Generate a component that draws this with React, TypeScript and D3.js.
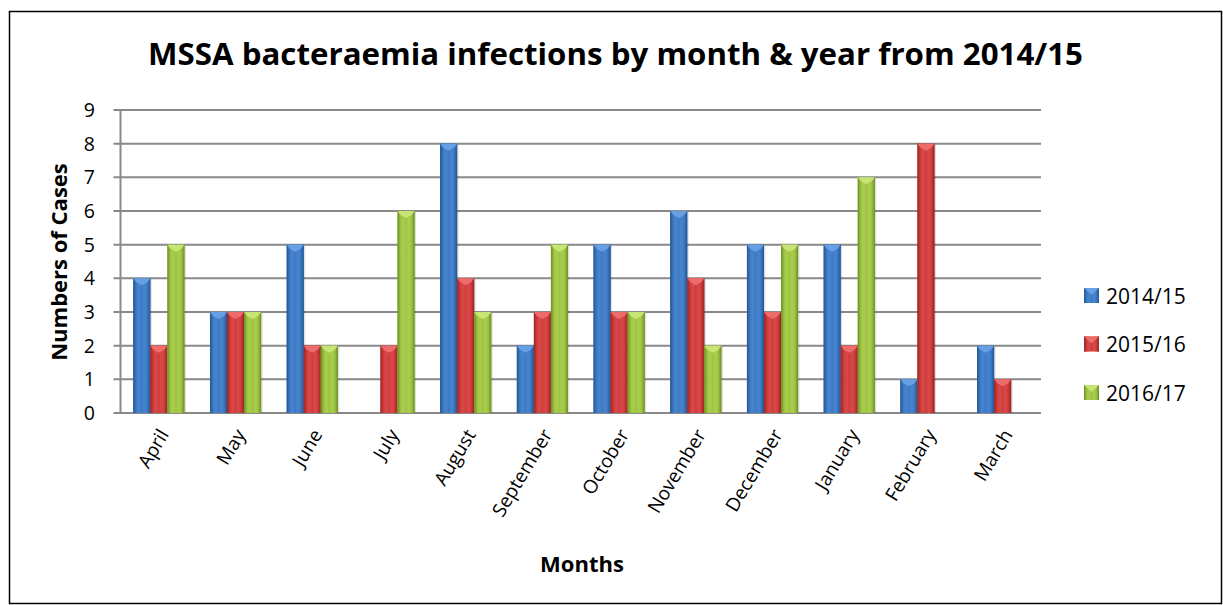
import React from "react";
import * as d3 from "d3";

const months = ["April","May","June","July","August","September","October","November","December","January","February","March"];
const seriesNames = ["2014/15","2015/16","2016/17"];
const values1415 = [4,3,5,0,8,2,5,6,5,5,1,2];
const values1516 = [2,3,2,2,4,3,3,4,3,2,8,1];
const values1617 = [5,3,2,6,3,5,3,2,5,7,0,0];
const yTicks = [0,1,2,3,4,5,6,7,8,9];
const colors = [
  { base: "#3b78c4", dark: "#24558f", light: "#6aa3e6" },
  { base: "#cf3a3a", dark: "#962626", light: "#f07070" },
  { base: "#9cc23e", dark: "#6d8d27", light: "#cbe87a" },
];

const W = 1223, H = 605;
const plot = { left: 120.5, right: 1041, top: 110, bottom: 413 };
const FONT = "'Open Sans', Lato, sans-serif";

export default function App() {
  const series = [values1415, values1516, values1617];
  const x0 = d3.scaleBand().domain(months).range([plot.left, plot.right]).paddingInner(0.333).paddingOuter(0.1665);
  const x1 = d3.scaleBand().domain(seriesNames).range([0, x0.bandwidth()]);
  const y = d3.scaleLinear().domain([0, 9]).range([plot.bottom, plot.top]);

  return (
    <svg width={W} height={H} style={{ position: "absolute", left: 0, top: 0, background: "#fff" }} fontFamily={FONT}>
      <defs>
        {colors.map((c, i) => (
          <linearGradient key={i} id={`g${i}`} x1="0" x2="1" y1="0" y2="0">
            <stop offset="0" stopColor={c.dark} />
            <stop offset="0.18" stopColor={c.base} />
            <stop offset="0.5" stopColor={c.light} stopOpacity="0.0" />
            <stop offset="0.82" stopColor={c.base} />
            <stop offset="1" stopColor={c.dark} />
          </linearGradient>
        ))}
      </defs>
      <rect x={9.5} y={11.5} width={1212} height={592} fill="#fff" stroke="#000" strokeWidth={1.5} />
      <text x={615.5} y={65} textAnchor="middle" fontSize={30} fontWeight="bold" fill="#000" textLength={935} lengthAdjust="spacingAndGlyphs">
        MSSA bacteraemia infections by month &amp; year from 2014/15
      </text>
      {yTicks.map((t) => (
        <g key={t}>
          <line x1={plot.left - 7} x2={plot.right} y1={y(t)} y2={y(t)} stroke="#898989" strokeWidth={2} />
          <text x={95} y={y(t)} dy="0.36em" textAnchor="end" fontSize={19.5} fill="#000">{t}</text>
        </g>
      ))}
      <line x1={plot.left} x2={plot.left} y1={plot.top} y2={plot.bottom} stroke="#898989" strokeWidth={2} />
      {months.map((m, mi) => (
        <g key={m}>
          {series.map((vals, si) => {
            const v = vals[mi];
            if (!v) return null;
            const bx = (x0(m) as number) + (x1(seriesNames[si]) as number);
            const bw = x1.bandwidth();
            const by = y(v);
            const bh = y(0) - by;
            const c = colors[si];
            return (
              <g key={si}>
                <rect x={bx + 1.5} y={by + 1} width={bw} height={bh - 1} fill="#000" opacity={0.12} />
                <rect x={bx} y={by} width={bw} height={bh} fill={c.base} />
                <rect x={bx} y={by} width={bw} height={bh} fill={`url(#g${si})`} />
                <polygon points={`${bx},${by} ${bx + bw},${by} ${bx + bw - 3},${by + 4} ${bx + bw / 2},${by + 7} ${bx + 3},${by + 4}`} fill={c.light} opacity={0.9} />
              </g>
            );
          })}
          <text
            transform={`translate(${(x0(m) as number) + x0.bandwidth() / 2 + 5},${431}) rotate(-59)`}
            textAnchor="end" dy="0.35em" fontSize={19} fill="#000"
          >{m}</text>
        </g>
      ))}
      <text transform={`translate(67,262) rotate(-90)`} textAnchor="middle" fontSize={22} fontWeight="bold" fill="#000">Numbers of Cases</text>
      <text x={582} y={572} textAnchor="middle" fontSize={22} fontWeight="bold" fill="#000">Months</text>
      {seriesNames.map((s, i) => {
        const ly = 296 + i * 48.5;
        const c = colors[i];
        return (
          <g key={s}>
            <rect x={1084} y={ly - 8} width={15} height={15} fill={c.base} />
            <rect x={1084} y={ly - 8} width={15} height={15} fill={`url(#g${i})`} />
            <polygon points={`${1084},${ly - 8} ${1099},${ly - 8} ${1091.5},${ly - 1}`} fill={c.light} opacity={0.9} />
            <text x={1106} y={ly} dy="0.36em" fontSize={21} fill="#000">{s}</text>
          </g>
        );
      })}
    </svg>
  );
}
